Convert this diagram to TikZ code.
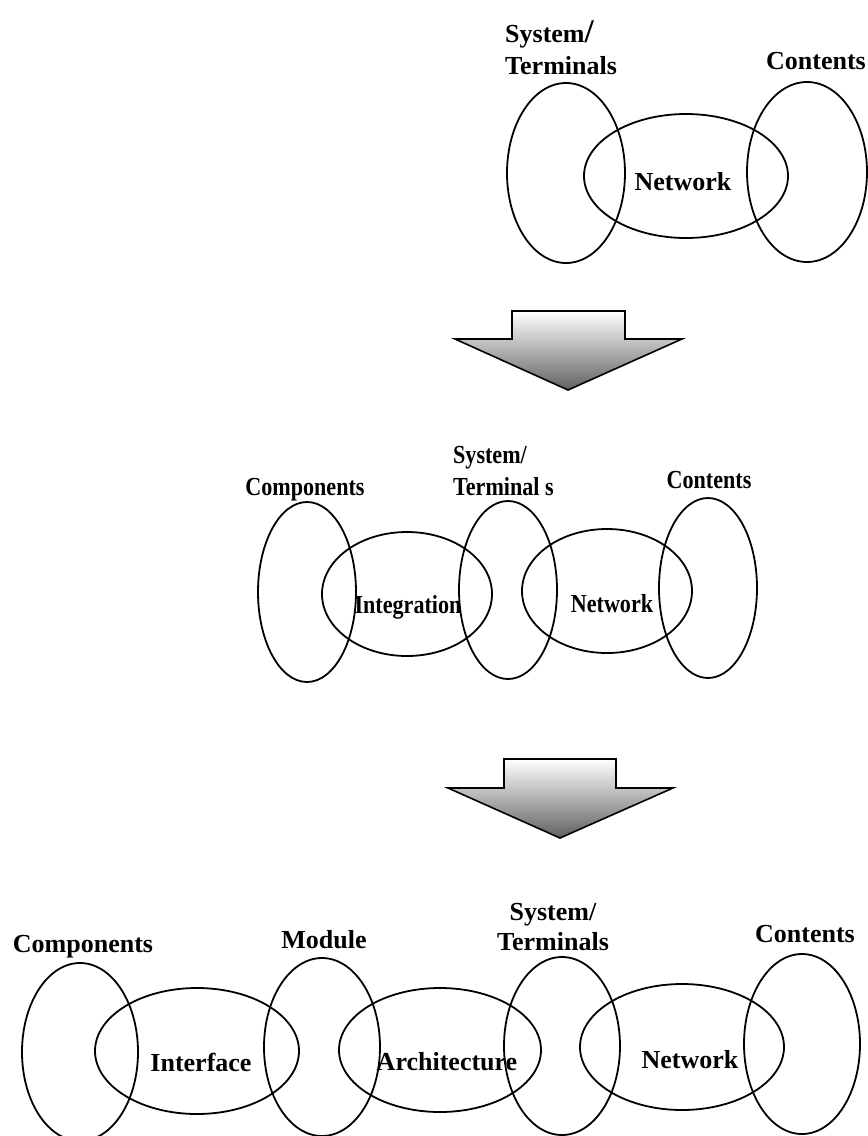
\documentclass[tikz,border=0pt]{standalone}
\usepackage{fontspec}
\setmainfont{Liberation Serif}
\usetikzlibrary{shapes.geometric}
\tikzset{
  ell/.style={draw, ellipse, line width=1.8pt, inner sep=0pt, minimum width=#1},
  lbl/.style={font=\fontsize{26}{32}\selectfont\bfseries, inner sep=0pt},
  lblb/.style={font=\fontsize{26}{30}\selectfont\bfseries, inner sep=0pt},
  downarrow/.style={draw=black, line width=1.6pt, line join=miter, top color=white, bottom color=black!62}
}
\newcommand{\sq}[1]{\scalebox{0.85}[1]{#1}}
\begin{document}
\begin{tikzpicture}[x=1pt, y=-1pt]
\useasboundingbox (0,0) rectangle (868,1136);

% ---------- top ----------
\node[ell=118pt, minimum height=180pt] (tsys) at (566,173) {};
\node[ell=204pt, minimum height=124pt] (tnet) at (686,176) {};
\node[ell=120pt, minimum height=180pt] (tcon) at (807,172) {};
\node[lbl, anchor=base west] (tsysl) at (505,42)
  {\begin{tabular}[t]{@{}l@{}}System{\fontsize{33}{33}\selectfont/}\\Terminals\end{tabular}};
\node[lbl, anchor=base] (tconl) at (816,69) {Contents};
\node[lbl, anchor=base] (tnetl) at (683,190) {Network};

% ---------- arrow 1 ----------
\path[downarrow] (512,311) -- (625,311) -- (625,339) -- (682,339) -- (568,390)
  -- (455,339) -- (512,339) -- cycle;

% ---------- middle ----------
\node[ell=98pt, minimum height=180pt] (mcomp) at (307,592) {};
\node[ell=170pt, minimum height=124pt] (mint) at (407,594) {};
\node[ell=98pt, minimum height=178pt] (msys) at (508,590) {};
\node[ell=170pt, minimum height=124pt] (mnet) at (607,591) {};
\node[ell=98pt, minimum height=180pt] (mcon) at (708,588) {};
\node[lbl, anchor=base] (mcompl) at (305,495) {\sq{Components}};
\node[lbl, anchor=base west] (msysl) at (453,463)
  {\sq{\begin{tabular}[t]{@{}l@{}}System/\\Terminal s\end{tabular}}};
\node[lbl, anchor=base] (mconl) at (709,488) {\sq{Contents}};
\node[lbl, anchor=base] (mintl) at (408,613) {\sq{Integration}};
\node[lbl, anchor=base] (mnetl) at (612,612) {\sq{Network}};

% ---------- arrow 2 ----------
\path[downarrow] (504,759) -- (616,759) -- (616,788) -- (673,788) -- (560,838)
  -- (448,788) -- (504,788) -- cycle;

% ---------- bottom ----------
\node[ell=116pt, minimum height=178pt] (bcomp) at (80,1052) {};
\node[ell=204pt, minimum height=126pt] (bint) at (197,1051) {};
\node[ell=116pt, minimum height=178pt] (bmod) at (322,1047) {};
\node[ell=202pt, minimum height=124pt] (barch) at (440,1050) {};
\node[ell=116pt, minimum height=178pt] (bsys) at (562,1046) {};
\node[ell=204pt, minimum height=126pt] (bnet) at (682,1047) {};
\node[ell=116pt, minimum height=180pt] (bcon) at (802,1044) {};
\node[lblb, anchor=base] (bcompl) at (83,952) {Components};
\node[lblb, anchor=base] (bmodl) at (324,948) {Module};
\node[lblb, anchor=base] (bsysl) at (553,920)
  {\begin{tabular}[t]{@{}c@{}}System/\\Terminals\end{tabular}};
\node[lblb, anchor=base] (bconl) at (805,942) {Contents};
\node[lblb, anchor=base] (bintl) at (201,1071) {Interface};
\node[lblb, anchor=base] (barchl) at (447,1070) {Architecture};
\node[lblb, anchor=base] (bnetl) at (690,1068) {Network};
\end{tikzpicture}
\end{document}
